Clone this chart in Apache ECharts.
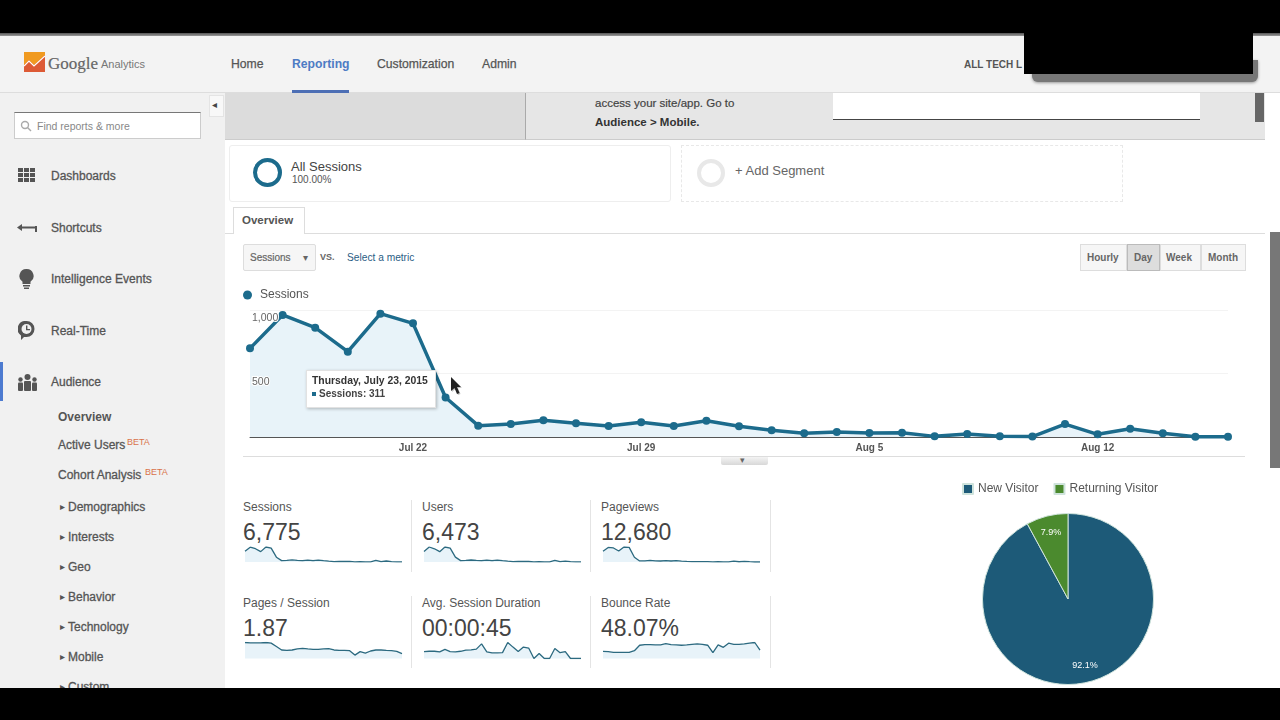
<!DOCTYPE html>
<html>
<head>
<meta charset="utf-8" />
<title>Audience Overview</title>
<script src="https://cdn.jsdelivr.net/npm/echarts@6/dist/echarts.min.js"></script>
<style>
    html, body { margin: 0; padding: 0; background: #000; }
    #page { position: relative; width: 1280px; height: 720px; overflow: hidden; background: #fff;
            font-family: "Liberation Sans", Arial, sans-serif; color: #555; }
    .box { position: absolute; box-sizing: border-box; }
    .t { position: absolute; white-space: nowrap; transform: translateY(-50%); line-height: 1; }
    .nav { font-size: 12.2px; color: #555; -webkit-text-stroke: 0.25px; }
    .side { font-size: 12px; color: #555; -webkit-text-stroke: 0.3px; margin-top: 1px; }
    .sub { font-size: 12px; color: #555; -webkit-text-stroke: 0.3px; margin-top: 1px; }
    .beta { font-size: 9px; color: #d9734a; }
    .btn { font-size: 10px; font-weight: bold; color: #666; }
    .metricName { font-size: 12px; color: #555; }
    .metricValue { font-size: 23px; color: #444; }
    #main { position: absolute; left: 0; top: 0; width: 1280px; height: 720px; }
    svg.icon { position: absolute; }
</style>
</head>
<body>
<div id="page">
    <div class="box" style="left:0;top:36px;width:1280px;height:57px;background:#f3f3f3;border-bottom:1px solid #ddd"></div>
    <div class="box" style="left:0;top:93px;width:225px;height:600px;background:#f1f1f1"></div>
    <div class="box" style="left:209px;top:95px;width:15px;height:22px;background:#f8f8f8;border:1px solid #e4e4e4"></div>

    <!-- gray banner -->
    <div class="box" style="left:225px;top:93px;width:1040px;height:47px;background:#e6e6e6;border-bottom:1px solid #ccc"></div>
    <div class="box" style="left:225px;top:93px;width:301px;height:47px;background:#dcdcdc;border-right:1px solid #aaa;border-bottom:1px solid #ccc"></div>
    <div class="box" style="left:833px;top:93px;width:367px;height:27px;background:#fff;border-bottom:1px solid #444"></div>
    <div class="box" style="left:1255px;top:93px;width:9px;height:29px;background:#666"></div>

    <!-- segments -->
    <div class="box" style="left:229px;top:145px;width:442px;height:57px;border:1px solid #eee;border-radius:3px"></div>
    <div class="box" style="left:681px;top:145px;width:442px;height:57px;border:1px dashed #e8e8e8"></div>
    <div class="box" style="left:253px;top:158px;width:29px;height:29px;border:4px solid #1c6b8c;border-radius:50%"></div>
    <div class="box" style="left:697px;top:159px;width:28px;height:28px;border:4px solid #e8e8e8;border-radius:50%"></div>

    <!-- tab and controls -->
    <div class="box" style="left:225px;top:233px;width:1040px;height:1px;background:#ddd"></div>
    <div class="box" style="left:233px;top:207px;width:72px;height:27px;background:#fff;border:1px solid #ddd;border-bottom:none"></div>
    <div class="box" style="left:243px;top:244px;width:73px;height:27px;background:#f6f6f6;border:1px solid #ddd;border-radius:2px"></div>
    <div class="box" style="left:1080px;top:244px;width:47px;height:27px;background:#f6f6f6;border:1px solid #ddd"></div>
    <div class="box" style="left:1127px;top:244px;width:33px;height:27px;background:#ddd;border:1px solid #bbb"></div>
    <div class="box" style="left:1160px;top:244px;width:41px;height:27px;background:#f6f6f6;border:1px solid #ddd"></div>
    <div class="box" style="left:1201px;top:244px;width:45px;height:27px;background:#f6f6f6;border:1px solid #ddd"></div>

    <!-- under chart rule and toggle -->
    <div class="box" style="left:243px;top:456px;width:1002px;height:1px;background:#ddd"></div>
    <div class="box" style="left:721px;top:457px;width:47px;height:8px;background:linear-gradient(#f4f4f4,#d8d8d8);border-radius:0 0 2px 2px"></div>

    <!-- metric separators -->
    <div class="box" style="left:411px;top:500px;width:1px;height:72px;background:#e4e4e4"></div>
    <div class="box" style="left:590px;top:500px;width:1px;height:72px;background:#e4e4e4"></div>
    <div class="box" style="left:770px;top:500px;width:1px;height:72px;background:#e4e4e4"></div>
    <div class="box" style="left:411px;top:596px;width:1px;height:72px;background:#e4e4e4"></div>
    <div class="box" style="left:590px;top:596px;width:1px;height:72px;background:#e4e4e4"></div>
    <div class="box" style="left:770px;top:596px;width:1px;height:72px;background:#e4e4e4"></div>

    <!-- active nav marks -->
    <div class="box" style="left:292px;top:90px;width:57px;height:3px;background:#4d6fb5"></div>
    <div class="box" style="left:0;top:362px;width:3px;height:39px;background:#4d7bd0"></div>

    <!-- search box -->
    <div class="box" style="left:14px;top:112px;width:187px;height:27px;background:#fff;border:1px solid #ccc;border-top:1px solid #777"></div>
    <svg class="icon" style="left:20px;top:120px" width="12" height="12" viewBox="0 0 12 12" fill="none" stroke="#aaa" stroke-width="1.4">
        <circle cx="5" cy="5" r="3.5"/><line x1="7.5" y1="7.5" x2="11" y2="11"/>
    </svg>

    <!-- logo -->
    <svg class="icon" style="left:24px;top:52px" width="21" height="20" viewBox="0 0 21 20">
        <rect width="21" height="20" fill="#f09a20"/>
        <polygon points="0,20 0,13 5,8 10,13 21,3 21,20" fill="#dd5a35"/>
        <polyline points="0,14 5,9 10,14 21,4" fill="none" stroke="#fff" stroke-width="1.2"/>
    </svg>

    <!-- sidebar icons -->
    <svg class="icon" style="left:18px;top:168px" width="17" height="15" viewBox="0 0 17 15" fill="#555">
        <rect width="5" height="4"/><rect x="6" width="5" height="4"/><rect x="12" width="5" height="4"/>
        <rect y="5" width="5" height="4"/><rect x="6" y="5" width="5" height="4"/><rect x="12" y="5" width="5" height="4"/>
        <rect y="10" width="5" height="4"/><rect x="6" y="10" width="5" height="4"/><rect x="12" y="10" width="5" height="4"/>
    </svg>
    <svg class="icon" style="left:17px;top:222px" width="21" height="11" viewBox="0 0 21 11" fill="#555">
        <polygon points="0,5.5 5,2 5,9"/><rect x="4" y="4.5" width="16" height="2"/><rect x="18" y="4" width="2" height="6"/>
    </svg>
    <svg class="icon" style="left:19px;top:269px" width="15" height="21" viewBox="0 0 15 21" fill="#555">
        <path d="M7.5 0a7 7 0 0 1 4 12.8V15h-8v-2.2A7 7 0 0 1 7.5 0z"/><rect x="4" y="16" width="7" height="1.5"/><rect x="5" y="18.5" width="5" height="1.5"/>
    </svg>
    <svg class="icon" style="left:18px;top:321px" width="17" height="19" viewBox="0 0 17 19">
        <path d="M8.5 0a8 8 0 0 1 0 16H6l-3 3v-4.5A8 8 0 0 1 8.5 0z" fill="#555"/>
        <circle cx="8.5" cy="8" r="5" fill="#f1f1f1"/>
        <path d="M8 4.5h1.4v3.4h2.6v1.4H8z" fill="#555"/>
    </svg>
    <svg class="icon" style="left:17px;top:374px" width="21" height="17" viewBox="0 0 21 17" fill="#555">
        <circle cx="10.5" cy="3" r="3"/><circle cx="3.5" cy="5.5" r="2.2"/><circle cx="17.5" cy="5.5" r="2.2"/>
        <rect x="7" y="7" width="7" height="10" rx="1"/><rect x="1" y="8.5" width="5" height="8.5" rx="1"/><rect x="15" y="8.5" width="5" height="8.5" rx="1"/>
    </svg>

    <div id="texts"></div>
    <div id="main"></div>

    <!-- mouse pointer -->
    <svg class="icon" style="left:449px;top:376px;z-index:30" width="14" height="20" viewBox="0 0 14 20">
        <polygon points="2,1 2,15 5.5,12 8,18 10.5,17 8,11 12,11" fill="#aaa" transform="translate(1,1)" opacity="0.7"/>
        <polygon points="2,1 2,15 5.5,12 8,18 10.5,17 8,11 12,11" fill="#222"/>
    </svg>

    <!-- masked account box and letterbox bars -->
    <div class="box" style="left:1032px;top:60px;width:226px;height:22px;background:#777;border-radius:0 0 6px 6px;box-shadow:0 1px 3px #999;z-index:19"></div>
    <div class="box" style="left:1024px;top:31px;width:229px;height:43px;background:#000;z-index:20"></div>
    <div class="box" style="left:0;top:0;width:1280px;height:33px;background:#000;z-index:19"></div>
    <div class="box" style="left:0;top:33px;width:1280px;height:3px;background:linear-gradient(#555,#999);z-index:18"></div>
    <div class="box" style="left:1270px;top:232px;width:10px;height:236px;background:#777;z-index:20"></div>
    <div class="box" style="left:0;top:688px;width:1280px;height:32px;background:#000;z-index:20"></div>
</div>

<script type="text/javascript">
    // axis
    var dates = ['Jul 17', 'Jul 18', 'Jul 19', 'Jul 20', 'Jul 21', 'Jul 22', 'Jul 23', 'Jul 24', 'Jul 25', 'Jul 26', 'Jul 27',
        'Jul 28', 'Jul 29', 'Jul 30', 'Jul 31', 'Aug 1', 'Aug 2', 'Aug 3', 'Aug 4', 'Aug 5', 'Aug 6', 'Aug 7', 'Aug 8', 'Aug 9',
        'Aug 10', 'Aug 11', 'Aug 12', 'Aug 13', 'Aug 14', 'Aug 15', 'Aug 16'];
    var xTickLabels = ['Jul 22', 'Jul 29', 'Aug 5', 'Aug 12'];
    var yTickLabels = { 500: '500', 1000: '1,000' };

    // series
    var sessions = [698, 961, 861, 672, 971, 895, 311, 89, 102, 131, 108, 87, 116, 87, 128, 84, 53, 29, 39, 31, 34, 5, 24, 5, 3, 102, 21, 65, 29, 2, 2];
    var users = [650, 930, 820, 640, 930, 860, 300, 85, 100, 125, 100, 85, 110, 85, 120, 80, 50, 28, 38, 30, 32, 5, 23, 5, 3, 95, 20, 60, 28, 2, 2];
    var pageviews = [1350, 1850, 1780, 1400, 1900, 1850, 610, 135, 155, 195, 150, 125, 175, 125, 180, 120, 75, 40, 55, 40, 45, 10, 30, 8, 5, 115, 30, 75, 35, 3, 3];
    var pagesPerSession = [2.2, 2.15, 2.15, 2.15, 2.2, 2.11, 1.64, 1.17, 1.12, 1.17, 1.31, 1.4, 1.31, 1.26, 1.26, 1.31, 1.36, 1.17, 1.12, 1.12, 1.08, 0.47, 0.94, 0.75, 1.03, 1.17, 1.17, 1.12, 1.08, 0.98, 0.66];
    var avgDuration = [45, 47, 47, 43, 59, 45, 43, 47, 54, 56, 61, 95, 43, 36, 36, 38, 104, 74, 45, 74, 68, 0, 32, 0, 0, 65, 38, 45, 0, 0, 0];
    var bounceRate = [44, 42, 38, 38, 38, 38, 48, 82, 86, 86, 84, 84, 92, 86, 84, 82, 84, 88, 90, 88, 82, 36, 84, 69, 95, 88, 88, 90, 95, 99, 52];

    var metricNames = ['Sessions', 'Users', 'Pageviews', 'Pages / Session', 'Avg. Session Duration', 'Bounce Rate'];
    var metricValues = ['6,775', '6,473', '12,680', '1.87', '00:00:45', '48.07%'];
    var metricSeries = [sessions, users, pageviews, pagesPerSession, avgDuration, bounceRate];

    var visitorTypes = ['New Visitor', 'Returning Visitor'];
    var visitorShares = [92.1, 7.9];

    var tooltipDate = 'Thursday, July 23, 2015';
    var tooltipIndex = 6;

    var TEAL = '#1c6b8c';
    var FILL = '#e8f3f9';

    // page text: x, center y, text, class, extra style
    var pageTexts = [
        [48, 63, 'Google', '', 'font-family:Liberation Serif;font-size:17px;color:#666;-webkit-text-stroke:0.2px'],
        [101, 64, 'Analytics', '', 'font-size:11px;color:#777'],
        [231, 64, 'Home', 'nav'],
        [292, 64, 'Reporting', 'nav', 'color:#4d7bc4;font-weight:bold;-webkit-text-stroke:0'],
        [377, 64, 'Customization', 'nav'],
        [482, 64, 'Admin', 'nav'],
        [964, 65, 'ALL TECH L', '', 'font-size:10px;font-weight:bold;color:#555'],
        [37, 126, 'Find reports & more', '', 'font-size:10.5px;color:#888'],
        [212, 105, '\u25C2', '', 'font-size:10px;color:#444'],
        [51, 175, 'Dashboards', 'side'],
        [51, 227, 'Shortcuts', 'side'],
        [51, 278, 'Intelligence Events', 'side'],
        [51, 330, 'Real-Time', 'side'],
        [51, 381, 'Audience', 'side'],
        [58, 416, 'Overview', 'sub', 'font-weight:bold;-webkit-text-stroke:0'],
        [58, 444, 'Active Users', 'sub'],
        [127, 442, 'BETA', 'beta'],
        [58, 474, 'Cohort Analysis', 'sub'],
        [145, 472, 'BETA', 'beta'],
        [68, 506, 'Demographics', 'sub'],
        [68, 536, 'Interests', 'sub'],
        [68, 566, 'Geo', 'sub'],
        [68, 596, 'Behavior', 'sub'],
        [68, 626, 'Technology', 'sub'],
        [68, 656, 'Mobile', 'sub'],
        [68, 686, 'Custom', 'sub'],
        [60, 507, '\u25B8', '', 'font-size:10px'],
        [60, 537, '\u25B8', '', 'font-size:10px'],
        [60, 567, '\u25B8', '', 'font-size:10px'],
        [60, 597, '\u25B8', '', 'font-size:10px'],
        [60, 627, '\u25B8', '', 'font-size:10px'],
        [60, 657, '\u25B8', '', 'font-size:10px'],
        [60, 687, '\u25B8', '', 'font-size:10px'],
        [595, 104, 'access your site/app. Go to', '', 'font-size:11.5px;color:#444;-webkit-text-stroke:0.2px'],
        [595, 123, 'Audience > Mobile.', '', 'font-size:11.5px;font-weight:bold;color:#333'],
        [291, 166, 'All Sessions', '', 'font-size:13px;color:#444'],
        [292, 180, '100.00%', '', 'font-size:10px;color:#555'],
        [735, 170, '+ Add Segment', '', 'font-size:13px;color:#666'],
        [242, 221, 'Overview', '', 'font-size:11.5px;font-weight:bold;color:#555'],
        [250, 258, 'Sessions', '', 'font-size:10px;color:#666;-webkit-text-stroke:0.2px'],
        [303, 258, '\u25BE', '', 'font-size:10px;color:#666'],
        [320, 257, 'VS.', '', 'font-size:9px;font-weight:bold;color:#666'],
        [347, 258, 'Select a metric', '', 'font-size:10.2px;color:#2a5d84'],
        [1087, 258, 'Hourly', 'btn'],
        [1134, 258, 'Day', 'btn'],
        [1166, 258, 'Week', 'btn'],
        [1208, 258, 'Month', 'btn'],
        [740, 460, '\u25BE', '', 'font-size:9px;color:#666']
    ];

    var metricX = [243, 422, 601];
    var metricY = [507, 603];
    metricNames.forEach(function (name, i) {
        var col = i % 3, row = Math.floor(i / 3);
        pageTexts.push([metricX[col], metricY[row], name, 'metricName']);
        pageTexts.push([metricX[col], metricY[row] + 25, metricValues[i], 'metricValue']);
    });

    var html = '';
    pageTexts.forEach(function (t) {
        var text = t[2].replace('&', '&amp;').replace('>', '&gt;');
        html += '<span class="t ' + t[3] + '" style="left:' + t[0] + 'px;top:' + t[1] + 'px;' + (t[4] || '') + '">' + text + '</span>';
    });
    document.getElementById('texts').innerHTML = html;

    // main chart grid first, then one small grid per metric
    var grids = [{ left: 250, top: 310, width: 978, height: 127 }];
    var xAxes = [{
        type: 'category',
        gridIndex: 0,
        boundaryGap: false,
        data: dates,
        axisLine: { lineStyle: { color: '#555', width: 1 } },
        axisTick: { show: false },
        axisLabel: {
            interval: function (index, value) { return xTickLabels.indexOf(value) >= 0; },
            margin: 6,
            fontSize: 10,
            fontWeight: 'bold',
            color: '#555',
            fontFamily: 'Liberation Sans'
        }
    }];
    var yAxes = [{
        type: 'value',
        gridIndex: 0,
        min: 0,
        max: 1000,
        interval: 500,
        axisLine: { show: false },
        axisTick: { show: false },
        axisLabel: { show: false },
        splitLine: { lineStyle: { color: '#f3f3f3', width: 1 } }
    }];
    var seriesList = [{
        name: 'Sessions',
        type: 'line',
        xAxisIndex: 0,
        yAxisIndex: 0,
        data: sessions,
        clip: false,
        symbol: 'circle',
        symbolSize: 8,
        showSymbol: true,
        showAllSymbol: true,
        lineStyle: { color: TEAL, width: 3.5 },
        itemStyle: { color: TEAL },
        areaStyle: { color: FILL, opacity: 1 },
        emphasis: { disabled: true }
    }];

    var sparkLeft = [245, 424, 603];
    var sparkTop = [547, 642.5];
    metricSeries.forEach(function (values, i) {
        var col = i % 3, row = Math.floor(i / 3), idx = i + 1;
        grids.push({ left: sparkLeft[col], top: sparkTop[row], width: 157, height: row === 0 ? 15 : 16 });
        xAxes.push({ type: 'category', gridIndex: idx, boundaryGap: false, data: dates, show: false });
        yAxes.push({ type: 'value', gridIndex: idx, min: 0, max: 'dataMax', show: false, splitLine: { show: false } });
        seriesList.push({
            name: metricNames[i] + ' trend',
            type: 'line',
            xAxisIndex: idx,
            yAxisIndex: idx,
            data: values,
            showSymbol: false,
            silent: true,
            tooltip: { show: false },
            lineStyle: { color: '#2c6a80', width: 1.3 },
            areaStyle: { color: FILL, opacity: 1 }
        });
    });

    // second axis on the main grid only to draw the labels over the line
    yAxes.push({
        type: 'value',
        gridIndex: 0,
        min: 0,
        max: 1000,
        interval: 500,
        position: 'left',
        z: 5,
        axisLine: { show: false },
        axisTick: { show: false },
        splitLine: { show: false },
        axisLabel: {
            inside: true,
            margin: 2,
            verticalAlign: 'top',
            padding: [3, 0, 0, 0],
            fontSize: 10.5,
            color: '#666',
            textBorderColor: '#fff',
            textBorderWidth: 2,
            fontFamily: 'Liberation Sans',
            formatter: function (v) { return yTickLabels[v] || ''; }
        }
    });

    var pieData = visitorTypes.map(function (name, i) {
        return { name: name, value: visitorShares[i] };
    });
    var PIE_X = 1068, PIE_Y = 599, LABEL_R = 69;
    seriesList.push({
        name: 'Visitors',
        type: 'pie',
        center: [PIE_X, PIE_Y],
        radius: [0, 85.5],
        startAngle: 90,
        clockwise: true,
        silent: true,
        tooltip: { show: false },
        data: pieData,
        color: ['#1d5a78', '#4b8a2e'],
        itemStyle: { borderColor: '#cfe3dc', borderWidth: 1 },
        label: {
            position: 'inner',
            formatter: '{d}%',
            color: '#fff',
            fontSize: 9,
            fontFamily: 'Liberation Sans'
        },
        labelLine: { show: false },
        // push the labels out towards the rim, the library puts them half way
        labelLayout: function (params) {
            var r = params.labelRect;
            var dx = r.x + r.width / 2 - PIE_X, dy = r.y + r.height / 2 - PIE_Y;
            var k = LABEL_R / Math.sqrt(dx * dx + dy * dy) - 1;
            return { dx: dx * k, dy: dy * k };
        }
    });

    var myChart = echarts.init(document.getElementById('main'), null, { width: 1280, height: 720 });
    myChart.setOption({
        animation: false,
        backgroundColor: 'transparent',
        textStyle: { fontFamily: 'Liberation Sans' },
        grid: grids,
        xAxis: xAxes,
        yAxis: yAxes,
        legend: [{
            data: ['Sessions'],
            left: 238,
            top: 284,
            icon: 'circle',
            itemWidth: 9,
            itemHeight: 9,
            itemGap: 8,
            selectedMode: false,
            textStyle: { color: '#555', fontSize: 12, padding: [0, 0, 0, 3], fontFamily: 'Liberation Sans' }
        }, {
            data: visitorTypes,
            left: 957,
            top: 478,
            icon: 'rect',
            itemWidth: 10,
            itemHeight: 10,
            itemGap: 15,
            selectedMode: false,
            textStyle: { color: '#555', fontSize: 12, fontFamily: 'Liberation Sans' }
        }],
        tooltip: {
            trigger: 'item',
            triggerOn: 'none',
            alwaysShowContent: true,
            transitionDuration: 0,
            position: [306, 370],
            padding: [4, 7, 8, 5],
            backgroundColor: '#fff',
            borderColor: '#e2e2e2',
            borderWidth: 1,
            extraCssText: 'box-shadow:1px 1px 3px rgba(0,0,0,0.25);border-radius:0;line-height:14px;',
            formatter: function (p) {
                return '<div style="font:bold 10.4px Liberation Sans;color:#333">' + tooltipDate + '</div>' +
                    '<div style="font:bold 10px Liberation Sans;color:#444;margin-top:2px">' +
                    '<span style="display:inline-block;width:4px;height:4px;background:' + TEAL + ';margin:0 3px 1px 0"></span>' +
                    p.seriesName + ': ' + p.value + '</div>';
            }
        },
        series: seriesList
    });
    myChart.dispatchAction({ type: 'showTip', seriesIndex: 0, dataIndex: tooltipIndex });
</script>
</body>
</html>
